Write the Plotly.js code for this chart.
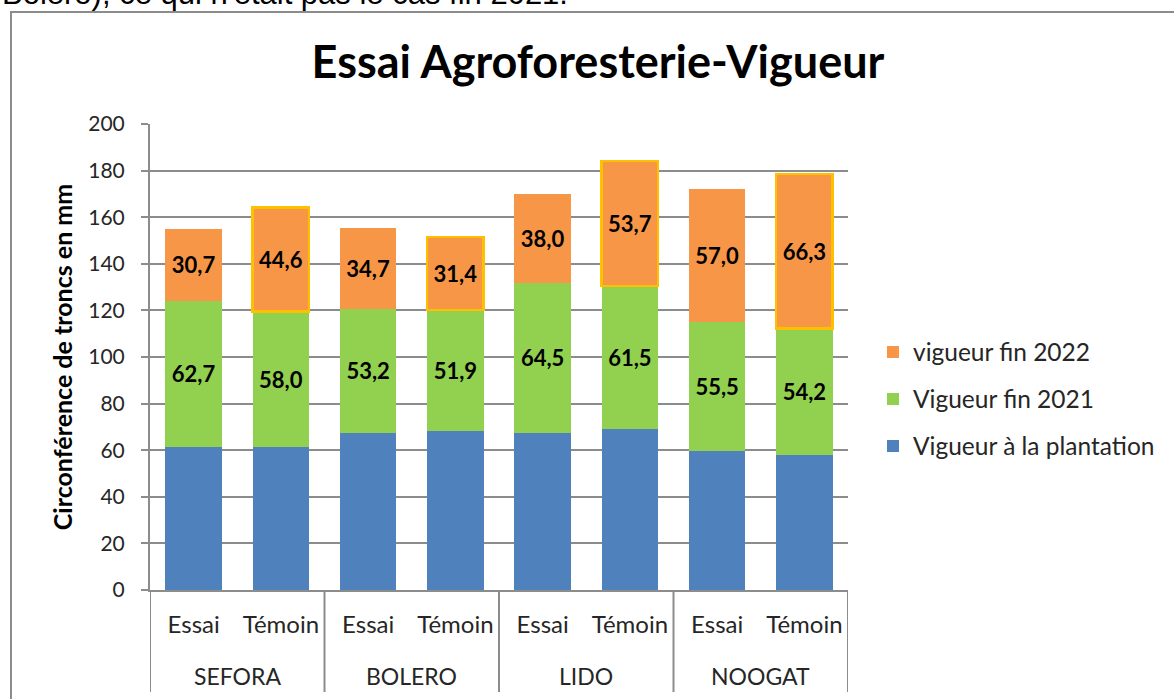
<!DOCTYPE html>
<html>
<head>
<meta charset="utf-8">
<script src="https://cdn.plot.ly/plotly-3.0.1.min.js"></script>
<style>
  html, body { margin: 0; padding: 0; background: #ffffff; }
  #chart { width: 1174px; height: 699px; }
</style>
</head>
<body>
<div id="chart"></div>
<script>
// ---- data ----
const varieties = ['SEFORA', 'BOLERO', 'LIDO', 'NOOGAT'];
const treatments = ['Essai', 'Témoin', 'Essai', 'Témoin', 'Essai', 'Témoin', 'Essai', 'Témoin'];
const plantation = [61.5, 61.5, 67.4, 68.2, 67.4, 69.0, 59.7, 58.0];
const fin2021 = [62.7, 58.0, 53.2, 51.9, 64.5, 61.5, 55.5, 54.2];
const fin2022 = [30.7, 44.6, 34.7, 31.4, 38.0, 53.7, 57.0, 66.3];
const seriesNames = ['Vigueur à la plantation', 'Vigueur fin 2021', 'vigueur fin 2022'];
const chartTitle = 'Essai Agroforesterie-Vigueur';
const yTitle = 'Circonférence de troncs en mm';
const topText = "Bolero), ce qui n'était pas le cas fin 2021.";

// ---- build ----
const FONT = 'Lato, "Open Sans", sans-serif';
const GRID = '#8c8c8c';
const xIdx = treatments.map((_, i) => i);
const fmt = v => v.toFixed(1).replace('.', ',');

const common = {
  type: 'bar', x: xIdx, width: 0.65,
  hoverinfo: 'skip',
  textposition: 'inside', insidetextanchor: 'middle',
  constraintext: 'none',
  textfont: { family: FONT, size: 22, color: '#000000', weight: 'bold' }
};

const traces = [
  Object.assign({}, common, {
    name: seriesNames[0], y: plantation, legend: 'legend3',
    marker: { color: '#4F81BD' }
  }),
  Object.assign({}, common, {
    name: seriesNames[1], y: fin2021, legend: 'legend2',
    text: fin2021.map(fmt),
    marker: { color: '#92D050' }
  }),
  Object.assign({}, common, {
    name: seriesNames[2], y: fin2022, legend: 'legend',
    text: fin2022.map(fmt),
    marker: {
      color: '#F79646',
      line: {
        color: treatments.map(t => t === 'Témoin' ? '#FFC000' : 'rgba(0,0,0,0)'),
        width: treatments.map(t => t === 'Témoin' ? 2.5 : 0)
      }
    }
  })
];

const L = 150, R = 848, T = 124, B = 590, W = 1174, H = 699;
const pw = R - L, ph = B - T;
const px = x => (x - L) / pw;
const py = y => (B - y) / ph;

const shapes = [];
// frame around the chart object
shapes.push({ type: 'rect', xref: 'paper', yref: 'paper',
  x0: px(11), x1: px(1300), y0: py(900), y1: py(12),
  line: { color: '#8c8c8c', width: 2 }, fillcolor: 'rgba(0,0,0,0)', layer: 'below' });
// category group dividers
for (let g = 0; g <= varieties.length; g++) {
  const xv = g * 2 - 0.5;
  shapes.push({ type: 'line', xref: 'x', yref: 'paper',
    x0: xv, x1: xv, y0: 0, y1: py(692),
    line: { color: GRID, width: 2 } });
}

const annotations = varieties.map((v, g) => ({
  text: v, xref: 'x', yref: 'paper', x: g * 2 + 0.5, y: py(676),
  xanchor: 'center', yanchor: 'middle', showarrow: false,
  font: { family: FONT, size: 23, color: '#262626' }
}));
annotations.push({
  text: topText, xref: 'paper', yref: 'paper', x: px(0), y: py(-7),
  xanchor: 'left', yanchor: 'middle', showarrow: false,
  font: { family: '"Liberation Sans", Arial, sans-serif', size: 31, color: '#000000' }
});

const legendBase = {
  x: px(873), xanchor: 'left', yanchor: 'middle',
  font: { family: FONT, size: 24.5, color: '#262626' },
  bgcolor: 'rgba(0,0,0,0)'
};

const layout = {
  width: W, height: H,
  margin: { l: L, r: W - R, t: T, b: H - B, pad: 0 },
  paper_bgcolor: '#ffffff', plot_bgcolor: '#ffffff',
  barmode: 'stack', bargap: 0.35,
  showlegend: true,
  title: {
    text: chartTitle, xref: 'paper', yref: 'container',
    x: px(598), y: 1 - 62 / H, xanchor: 'center', yanchor: 'middle',
    font: { family: FONT, size: 45, color: '#000000', weight: 'bold' }
  },
  xaxis: {
    range: [-0.5, 7.5], tickvals: xIdx, ticktext: treatments,
    showgrid: false, zeroline: false, showline: true,
    linecolor: GRID, linewidth: 2, ticks: '',
    ticklabelstandoff: 12,
    tickfont: { family: FONT, size: 24, color: '#262626' },
    fixedrange: true
  },
  yaxis: {
    range: [0, 200], dtick: 20, tick0: 0,
    showgrid: true, gridcolor: GRID, gridwidth: 2,
    zeroline: false, showline: true, linecolor: GRID, linewidth: 2,
    ticks: 'outside', ticklen: 7, tickwidth: 2, tickcolor: GRID,
    ticklabelstandoff: 12,
    tickfont: { family: FONT, size: 21, color: '#262626' },
    title: { text: yTitle, standoff: 9,
      font: { family: FONT, size: 25, color: '#000000', weight: 'bold' } },
    fixedrange: true
  },
  legend: Object.assign({}, legendBase, { y: py(352) }),
  legend2: Object.assign({}, legendBase, { y: py(399) }),
  legend3: Object.assign({}, legendBase, { y: py(446) }),
  shapes: shapes,
  annotations: annotations
};

Plotly.newPlot('chart', traces, layout, { displayModeBar: false, staticPlot: true });
</script>
</body>
</html>
